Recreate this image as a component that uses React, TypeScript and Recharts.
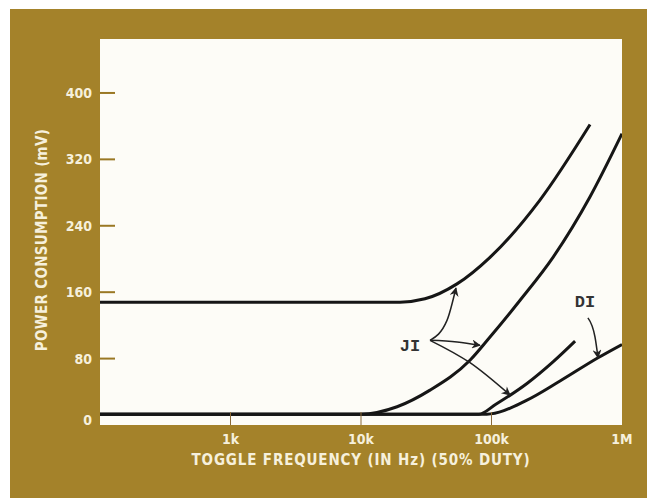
import { LineChart, Line, XAxis, YAxis, CartesianGrid, ReferenceDot } from 'recharts'

// frequency (Hz) / power (mV)
const freqA = [100, 19900, 30900, 54400, 97400, 235000, 569000]
const powerA = [148, 148, 152, 170, 202, 271, 362]

const freqB = [100, 10000, 18900, 33800, 68400, 97400, 165000, 296000, 569000, 1000000]
const powerB = [13, 13, 22, 42, 78, 106, 150, 202, 275, 351]

const freqC = [100, 80000, 108000, 187000, 296000, 437000]
const powerC = [13, 13, 25, 50, 76, 101]

const freqD = [100, 92000, 187000, 335000, 655000, 1000000]
const powerD = [13, 13, 30, 53, 81, 97]

// annotation arrows (JI -> three curves, DI -> one curve)
const arrowJI1F = [33800, 45600, 53400]
const arrowJI1V = [102, 126, 165]
const arrowJI2F = [33800, 54500, 81600]
const arrowJI2V = [102, 100, 96]
const arrowJI3F = [33800, 68400, 138700]
const arrowJI3V = [102, 75, 36]
const arrowDIF = [548000, 621000, 655000]
const arrowDIV = [129, 106, 81]

const xTicks = [1000, 10000, 100000, 1000000]
const xTickLabels = ['1k', '10k', '100k', '1M']
const yTicks = [0, 80, 160, 240, 320, 400]

const GOLD = '#a4822a'
const CREAM = '#f6f0dc'
const FONT = '"DejaVu Sans Condensed", "DejaVu Sans", sans-serif'

const zip = (f: number[], v: number[]) => f.map((x, i) => ({ f: x, v: v[i] }))

const curves = [zip(freqA, powerA), zip(freqB, powerB), zip(freqC, powerC), zip(freqD, powerD)]
const arrows = [
  zip(arrowJI1F, arrowJI1V),
  zip(arrowJI2F, arrowJI2V),
  zip(arrowJI3F, arrowJI3V),
  zip(arrowDIF, arrowDIV),
]

function YTick({ x, y, payload }: any) {
  const v = payload.value
  return (
    <g>
      {v !== 0 && <line x1={x} x2={x + 15} y1={y} y2={y} stroke="#9a7824" strokeWidth={2} />}
      <text
        x={x - 8}
        y={v === 0 ? y - 5 : y}
        textAnchor="end"
        dominantBaseline="central"
        fill={CREAM}
        fontFamily={FONT}
        fontWeight="bold"
        fontSize={14}
      >
        {v}
      </text>
    </g>
  )
}

function XTick({ x, y, payload, index }: any) {
  return (
    <g>
      {payload.value < 1000000 && <line x1={x} x2={x} y1={y - 13} y2={y} stroke="#8a6a3a" strokeWidth={1} />}
      <text
        x={x}
        y={y + 14}
        textAnchor="middle"
        dominantBaseline="central"
        fill={CREAM}
        fontFamily={FONT}
        fontWeight="bold"
        fontSize={14}
      >
        {xTickLabels[index]}
      </text>
    </g>
  )
}

const Tag = (text: string) => (props: any) => (
  <text
    x={props.cx}
    y={props.cy}
    textAnchor="middle"
    dominantBaseline="central"
    fill="#333"
    fontFamily='"Liberation Mono", monospace'
    fontWeight="bold"
    fontSize={17}
  >
    {text}
  </text>
)

export default function App() {
  return (
    <div style={{ position: 'absolute', left: 10, top: 9, width: 637, height: 489, background: GOLD }}>
      <svg width={0} height={0} style={{ position: 'absolute' }}>
        <defs>
          <marker id="arrowHead" viewBox="0 0 10 10" refX={9} refY={5} markerWidth={12} markerHeight={9} markerUnits="userSpaceOnUse" orient="auto">
            <path d="M0,0 L10,5 L0,10 L3,5 z" fill="#222" />
          </marker>
        </defs>
      </svg>
      <LineChart width={637} height={489} margin={{ top: 30, right: 25, bottom: 0, left: 0 }}>
        <CartesianGrid horizontal={false} vertical={false} fill="#fdfcf7" stroke="none" />
        <XAxis
          dataKey="f"
          type="number"
          scale="log"
          domain={[100, 1000000]}
          ticks={xTicks}
          allowDataOverflow
          axisLine={false}
          tickLine={false}
          tickSize={0}
          tickMargin={0}
          height={73}
          tick={<XTick />}
          interval={0}
        />
        <YAxis
          type="number"
          domain={[0, 465]}
          ticks={yTicks}
          allowDataOverflow
          axisLine={false}
          tickLine={false}
          tickSize={0}
          tickMargin={0}
          width={90}
          tick={<YTick />}
          interval={0}
        />
        {curves.map((d, i) => (
          <Line
            key={'c' + i}
            data={d}
            dataKey="v"
            type="monotone"
            stroke="#161616"
            strokeWidth={3}
            dot={false}
            activeDot={false}
            isAnimationActive={false}
          />
        ))}
        {arrows.map((d, i) => (
          <Line
            key={'a' + i}
            data={d}
            dataKey="v"
            type="monotone"
            stroke="#222"
            strokeWidth={1.5}
            dot={false}
            activeDot={false}
            markerEnd="url(#arrowHead)"
            isAnimationActive={false}
          />
        ))}
        <ReferenceDot x={23700} y={94} r={0} shape={Tag('JI')} />
        <ReferenceDot x={520000} y={147} r={0} shape={Tag('DI')} />
      </LineChart>
      <div
        style={{
          position: 'absolute',
          left: 351,
          top: 451,
          transform: 'translate(-50%, -50%)',
          whiteSpace: 'nowrap',
          color: CREAM,
          fontFamily: FONT,
          fontWeight: 'bold',
          fontSize: 15,
          letterSpacing: 0.85,
        }}
      >
        TOGGLE FREQUENCY (IN Hz) (50% DUTY)
      </div>
      <div
        style={{
          position: 'absolute',
          left: 32,
          top: 231,
          transform: 'translate(-50%, -50%) rotate(-90deg)',
          whiteSpace: 'nowrap',
          color: CREAM,
          fontFamily: FONT,
          fontWeight: 'bold',
          fontSize: 15,
          letterSpacing: 0.3,
        }}
      >
        POWER CONSUMPTION (mV)
      </div>
    </div>
  )
}
